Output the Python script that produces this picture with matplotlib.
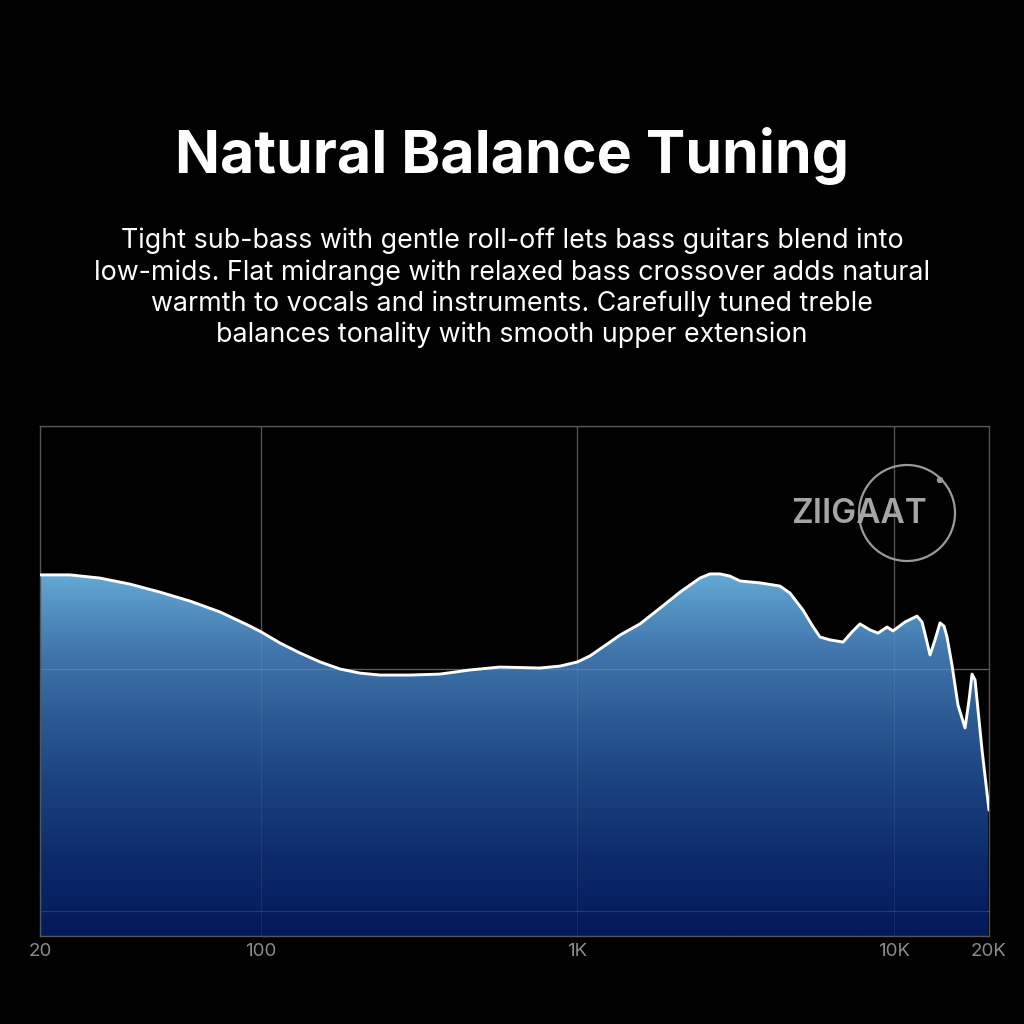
import matplotlib
matplotlib.use("Agg")
import matplotlib.pyplot as plt
import numpy as np
from matplotlib.colors import LinearSegmentedColormap
from matplotlib.patches import Circle

# frequency response (Hz, dB)
freq_hz = [20, 24.9, 30.9, 38.5, 47.9, 59.6, 74.2, 92.2, 100, 114.8, 132.7,
           153.6, 177.6, 205.4, 237.6, 295.6, 367.7, 457.5, 569, 761, 881,
           1000, 1096, 1268, 1363, 1577, 1824, 2110, 2440, 2624, 2822, 3035,
           3266, 3776, 4368, 4698, 5164, 5515, 5844, 6289, 6913, 7380, 7820,
           8411, 8916, 9522, 9946, 10856, 11844, 12284, 12646, 13020, 13503,
           14002, 14417, 14734, 15278, 15960, 16800, 17296, 17677, 18068,
           18332, 19010, 20000]
level_db = [13.86, 13.86, 13.73, 13.48, 13.15, 12.78, 12.33, 11.75, 11.51,
            11.05, 10.64, 10.27, 9.98, 9.81, 9.73, 9.73, 9.77, 9.94, 10.06,
            10.02, 10.10, 10.27, 10.52, 11.09, 11.38, 11.84, 12.49, 13.15,
            13.73, 13.90, 13.90, 13.81, 13.61, 13.53, 13.40, 13.11, 12.41,
            11.79, 11.30, 11.18, 11.09, 11.51, 11.84, 11.59, 11.46, 11.71,
            11.55, 11.92, 12.16, 11.92, 11.26, 10.56, 11.18, 11.88, 11.75,
            11.30, 10.14, 8.49, 7.55, 8.70, 9.77, 9.53, 8.70, 6.64, 4.16]

tick_freqs = [20, 100, 1000, 10000, 20000]
tick_labels = ["20", "100", "1K", "10K", "20K"]
grid_db = [0, 10, 20]

title = "Natural Balance Tuning"
subtitle = ("Tight sub-bass with gentle roll-off lets bass guitars blend into\n"
            "low-mids. Flat midrange with relaxed bass crossover adds natural\n"
            "warmth to vocals and instruments. Carefully tuned treble\n"
            "balances tonality with smooth upper extension")

fig = plt.figure(figsize=(10.24, 10.24), dpi=100, facecolor="black")
ax = fig.add_axes([40 / 1024, 88 / 1024, 949 / 1024, 510 / 1024])
ax.set_facecolor("black")
ax.set_xscale("log")
ax.set_xlim(20, 20000)
ax.set_ylim(-1.03, 20.0)

# vertical gradient, clipped to the area under the curve
cmap = LinearSegmentedColormap.from_list("fr", [
    (0.0, "#031a5a"), (0.05, "#061f60"), (0.15, "#0d2b6a"), (0.30, "#1b437f"),
    (0.45, "#2f5f98"), (0.55, "#3f74aa"), (0.65, "#5594c5"), (0.72, "#67add7"),
    (1.0, "#7cc4e8")])
grad = np.linspace(0, 1, 256).reshape(-1, 1)
img = ax.imshow(grad, cmap=cmap, origin="lower", aspect="auto",
                extent=[20, 20000, -1.03, 20.0], zorder=1)
fill = ax.fill_between(freq_hz, level_db, -1.03, color="none", zorder=1)
img.set_clip_path(fill.get_paths()[0], transform=ax.transData)

ax.plot(freq_hz, level_db, color="white", lw=2.1, zorder=3,
        solid_joinstyle="round", solid_capstyle="round")

# grid: visible on black, only faint over the fill
for f in tick_freqs[1:4]:
    ax.axvline(f, color="#4a4a4a", lw=1.0, zorder=0)
    ax.axvline(f, color="white", lw=0.8, alpha=0.07, zorder=2)
for g in grid_db:
    ax.axhline(g, color="#4a4a4a", lw=1.0, zorder=0)
    ax.axhline(g, color="white", lw=0.8, alpha=0.12, zorder=2)

for s in ax.spines.values():
    s.set_color("#555555")
    s.set_linewidth(1.0)
ax.set_xticks(tick_freqs)
ax.set_xticklabels(tick_labels)
ax.xaxis.set_minor_locator(matplotlib.ticker.NullLocator())
ax.tick_params(axis="x", length=0, pad=5, labelsize=13.5, labelcolor="#8c8c8c")
ax.set_yticks([])
for lbl in ax.get_xticklabels():
    lbl.set_fontfamily("Inter")

fig.text(0.5, 1 - 156 / 1024, title, ha="center", va="center", color="white",
         fontsize=42.5, fontweight="bold", family="Inter")
fig.text(0.5, 1 - 288 / 1024, subtitle, ha="center", va="center",
         color="white", fontsize=19.3, linespacing=1.24, family="Inter")

# brand logo
fig.patches.append(Circle((907 / 1024, 1 - 513 / 1024), 48 / 1024,
                          transform=fig.transFigure, fill=False,
                          edgecolor="#9a9a9a", lw=1.6))
fig.patches.append(Circle((940 / 1024, 1 - 480 / 1024), 2.5 / 1024,
                          transform=fig.transFigure, color="#9a9a9a"))
fig.text(859 / 1024, 1 - 514 / 1024, "ZIIGAAT", ha="center", va="center",
         color="#a5a5a5", fontsize=24, fontweight="semibold", family="Inter")

fig.savefig("out.png", dpi=100, facecolor="black")
